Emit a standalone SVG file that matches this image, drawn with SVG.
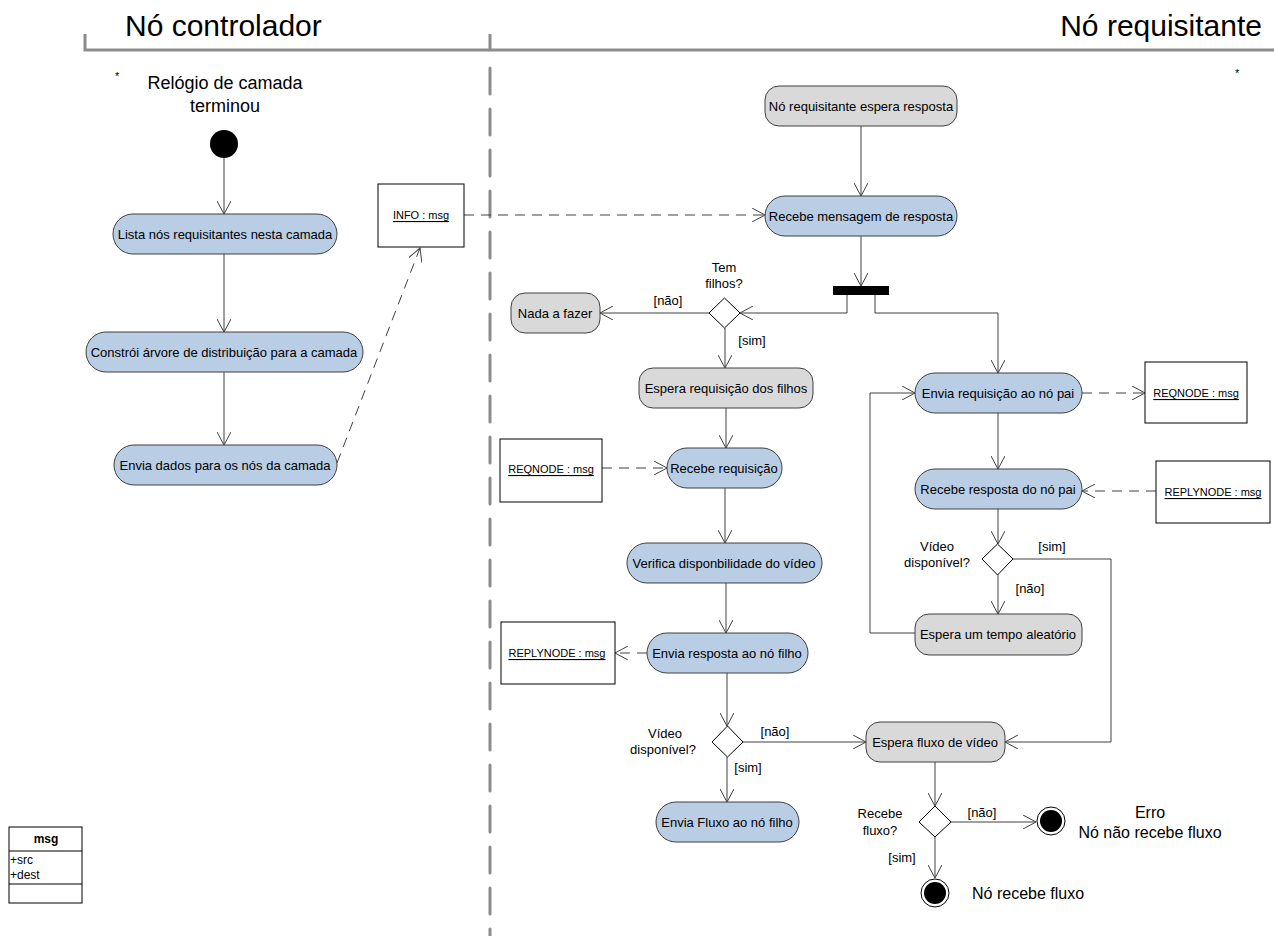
<svg xmlns="http://www.w3.org/2000/svg" width="1274" height="936" viewBox="0 0 1274 936">
  <defs>
    <marker id="arr" viewBox="0 0 14 14" refX="13" refY="7" markerWidth="14" markerHeight="14" markerUnits="userSpaceOnUse" orient="auto">
      <path d="M0,0 L13,7 L0,14" fill="none" stroke="#404040" stroke-width="1"/>
    </marker>
  </defs>
  <style>
    text { font-family: "Liberation Sans", Arial, sans-serif; fill: #000; }
    .act { fill: #b9cde5; stroke: #404040; stroke-width: 1; }
    .wait { fill: #d9d9d9; stroke: #404040; stroke-width: 1; }
    .obj { fill: #fff; stroke: #000; stroke-width: 1; }
    .lbl { font-size: 13px; text-anchor: middle; dominant-baseline: central; }
    .objt { font-size: 11px; text-anchor: middle; dominant-baseline: central; text-decoration: underline; }
    .flow { fill: none; stroke: #404040; stroke-width: 1; marker-end: url(#arr); }
    .dep { fill: none; stroke: #404040; stroke-width: 1; stroke-dasharray: 10 7; marker-end: url(#arr); }
    .lane { fill: none; stroke: #8c8c8c; stroke-width: 3; }
  </style>

  <rect width="1274" height="936" fill="#fff"/>

  <!-- swimlanes -->
  <g id="lanes">
    <path class="lane" d="M85,34 V50 H489"/>
    <path class="lane" d="M490,34 V50 H1274"/>
    <line class="lane" x1="490" y1="68" x2="490" y2="936" stroke-dasharray="26 15" stroke-linecap="round"/>
    <text x="125" y="36" font-size="30">Nó controlador</text>
    <text x="1262" y="36" font-size="30" text-anchor="end">Nó requisitante</text>
    <text x="115" y="80" font-size="11">*</text>
    <text x="1235" y="77" font-size="11">*</text>
  </g>

  <!-- connectors -->
  <g id="connectors">
    <line class="flow" x1="224" y1="158" x2="224" y2="214"/>
    <line class="flow" x1="224" y1="254" x2="224" y2="332"/>
    <line class="flow" x1="224" y1="372" x2="224" y2="445"/>
    <line class="dep" x1="337" y1="463" x2="420" y2="248"/>
    <line class="dep" x1="464" y1="215" x2="765" y2="215"/>

    <line class="flow" x1="861" y1="126" x2="861" y2="196"/>
    <line class="flow" x1="861" y1="236" x2="861" y2="286"/>
    <path class="flow" d="M847,295 V313 H740"/>
    <path class="flow" d="M875,295 V313 H998 V373"/>
    <line class="flow" x1="709" y1="313" x2="600" y2="313"/>
    <line class="flow" x1="725" y1="328" x2="725" y2="368"/>
    <line class="flow" x1="726" y1="408" x2="726" y2="448"/>
    <line class="dep" x1="602" y1="468" x2="667" y2="468"/>
    <line class="flow" x1="725" y1="488" x2="725" y2="543"/>
    <line class="flow" x1="726" y1="583" x2="726" y2="633"/>
    <line class="dep" x1="647" y1="653" x2="615" y2="653"/>
    <line class="flow" x1="727" y1="673" x2="727" y2="726"/>
    <line class="flow" x1="743" y1="742" x2="866" y2="742"/>
    <line class="flow" x1="727" y1="757" x2="727" y2="802"/>
    <line class="flow" x1="935" y1="762" x2="935" y2="806"/>
    <line class="flow" x1="951" y1="822" x2="1036" y2="822"/>
    <line class="flow" x1="935" y1="837" x2="935" y2="878"/>

    <line class="dep" x1="1082" y1="393" x2="1145" y2="393"/>
    <line class="flow" x1="998" y1="413" x2="998" y2="469"/>
    <line class="dep" x1="1156" y1="491" x2="1082" y2="491"/>
    <line class="flow" x1="998" y1="509" x2="998" y2="544"/>
    <path class="flow" d="M1013,559 H1111 V742 H1005"/>
    <line class="flow" x1="998" y1="575" x2="998" y2="614"/>
    <path class="flow" d="M915,633 H870 V393 H915"/>
  </g>

  <!-- controller lane -->
  <g id="start">
    <text class="lbl" x="225" y="83" style="font-size:18px">Relógio de camada</text>
    <text class="lbl" x="225" y="106" style="font-size:18px">terminou</text>
    <circle cx="224" cy="144" r="14" fill="#000"/>
  </g>
  <g id="lista">
    <rect class="act" x="113" y="214" width="224" height="40" rx="20"/>
    <text class="lbl" x="225" y="234">Lista nós requisitantes nesta camada</text>
  </g>
  <g id="constroi">
    <rect class="act" x="86" y="332" width="277" height="40" rx="20"/>
    <text class="lbl" x="224" y="352">Constrói árvore de distribuição para a camada</text>
  </g>
  <g id="envia-dados">
    <rect class="act" x="114" y="445" width="223" height="40" rx="20"/>
    <text class="lbl" x="225" y="465">Envia dados para os nós da camada</text>
  </g>
  <g id="info">
    <rect class="obj" x="378" y="184" width="86" height="63"/>
    <text class="objt" x="421" y="215">INFO : msg</text>
  </g>
  <g id="msg-class">
    <rect class="obj" x="9" y="827" width="73" height="76"/>
    <line x1="9" y1="851" x2="82" y2="851" stroke="#000"/>
    <line x1="9" y1="884" x2="82" y2="884" stroke="#000"/>
    <text x="46" y="843" font-size="12" font-weight="bold" text-anchor="middle">msg</text>
    <text x="10" y="864" font-size="12">+src</text>
    <text x="10" y="879" font-size="12">+dest</text>
  </g>

  <!-- requester lane -->
  <g id="espera-resposta">
    <rect class="wait" x="765" y="86" width="192" height="40" rx="14"/>
    <text class="lbl" x="861" y="106">Nó requisitante espera resposta</text>
  </g>
  <g id="recebe-mensagem">
    <rect class="act" x="765" y="196" width="192" height="40" rx="20"/>
    <text class="lbl" x="861" y="216">Recebe mensagem de resposta</text>
  </g>
  <g id="fork">
    <rect x="833" y="286" width="56" height="9" fill="#000"/>
  </g>
  <g id="tem-filhos">
    <polygon points="724.5,298 740,313 724.5,328 709,313" fill="#fff" stroke="#000"/>
    <text class="lbl" x="724" y="267">Tem</text>
    <text class="lbl" x="724" y="283">filhos?</text>
    <text class="lbl" x="668" y="300">[não]</text>
    <text class="lbl" x="752" y="340">[sim]</text>
  </g>
  <g id="nada">
    <rect class="wait" x="511" y="293" width="89" height="40" rx="14"/>
    <text class="lbl" x="555" y="313">Nada a fazer</text>
  </g>
  <g id="espera-requisicao">
    <rect class="wait" x="639" y="368" width="174" height="40" rx="14"/>
    <text class="lbl" x="726" y="388">Espera requisição dos filhos</text>
  </g>
  <g id="recebe-requisicao">
    <rect class="act" x="667" y="448" width="115" height="40" rx="20"/>
    <text class="lbl" x="724" y="468">Recebe requisição</text>
  </g>
  <g id="reqnode-in">
    <rect class="obj" x="500" y="439" width="102" height="63"/>
    <text class="objt" x="551" y="469">REQNODE : msg</text>
  </g>
  <g id="verifica">
    <rect class="act" x="627" y="543" width="195" height="40" rx="20"/>
    <text class="lbl" x="724" y="563">Verifica disponbilidade do vídeo</text>
  </g>
  <g id="envia-resposta">
    <rect class="act" x="647" y="633" width="161" height="40" rx="20"/>
    <text class="lbl" x="727" y="653">Envia resposta ao nó filho</text>
  </g>
  <g id="replynode-out">
    <rect class="obj" x="501" y="622" width="114" height="62"/>
    <text class="objt" x="557" y="653">REPLYNODE : msg</text>
  </g>
  <g id="video-filho">
    <polygon points="727.5,726 743,742 727.5,757 712,742" fill="#fff" stroke="#000"/>
    <text class="lbl" x="665" y="733">Vídeo</text>
    <text class="lbl" x="663" y="749">disponível?</text>
    <text class="lbl" x="775" y="731">[não]</text>
    <text class="lbl" x="748" y="767">[sim]</text>
  </g>
  <g id="envia-fluxo">
    <rect class="act" x="656" y="802" width="143" height="40" rx="20"/>
    <text class="lbl" x="727" y="822">Envia Fluxo ao nó filho</text>
  </g>
  <g id="espera-fluxo">
    <rect class="wait" x="866" y="722" width="139" height="40" rx="14"/>
    <text class="lbl" x="935" y="742">Espera fluxo de vídeo</text>
  </g>
  <g id="recebe-fluxo">
    <polygon points="935,806 951,822 935,837 919,822" fill="#fff" stroke="#000"/>
    <text class="lbl" x="880" y="813">Recebe</text>
    <text class="lbl" x="880" y="830">fluxo?</text>
    <text class="lbl" x="982" y="812">[não]</text>
    <text class="lbl" x="902" y="857">[sim]</text>
  </g>
  <g id="fim-erro">
    <circle cx="1051" cy="821" r="14" fill="#fff" stroke="#000"/>
    <circle cx="1051" cy="821" r="11" fill="#000"/>
    <text x="1150" y="812" font-size="16" text-anchor="middle" dominant-baseline="central">Erro</text>
    <text x="1150" y="832" font-size="16" text-anchor="middle" dominant-baseline="central">Nó não recebe fluxo</text>
  </g>
  <g id="fim-ok">
    <circle cx="935" cy="893" r="14" fill="#fff" stroke="#000"/>
    <circle cx="935" cy="893" r="11" fill="#000"/>
    <text x="972" y="893" font-size="16" dominant-baseline="central">Nó recebe fluxo</text>
  </g>
  <g id="envia-requisicao">
    <rect class="act" x="915" y="373" width="167" height="40" rx="20"/>
    <text class="lbl" x="998" y="393">Envia requisição ao nó pai</text>
  </g>
  <g id="reqnode-out">
    <rect class="obj" x="1145" y="362" width="102" height="61"/>
    <text class="objt" x="1196" y="393">REQNODE : msg</text>
  </g>
  <g id="recebe-resposta">
    <rect class="act" x="915" y="469" width="167" height="40" rx="20"/>
    <text class="lbl" x="998" y="489">Recebe resposta do nó pai</text>
  </g>
  <g id="replynode-in">
    <rect class="obj" x="1156" y="461" width="114" height="62"/>
    <text class="objt" x="1213" y="492">REPLYNODE : msg</text>
  </g>
  <g id="video-pai">
    <polygon points="997.5,544 1013,559 997.5,575 982,559" fill="#fff" stroke="#000"/>
    <text class="lbl" x="937" y="546">Vídeo</text>
    <text class="lbl" x="937" y="562">disponível?</text>
    <text class="lbl" x="1052" y="546">[sim]</text>
    <text class="lbl" x="1030" y="588">[não]</text>
  </g>
  <g id="espera-tempo">
    <rect class="wait" x="915" y="614" width="167" height="41" rx="14"/>
    <text class="lbl" x="998" y="634">Espera um tempo aleatório</text>
  </g>
</svg>
